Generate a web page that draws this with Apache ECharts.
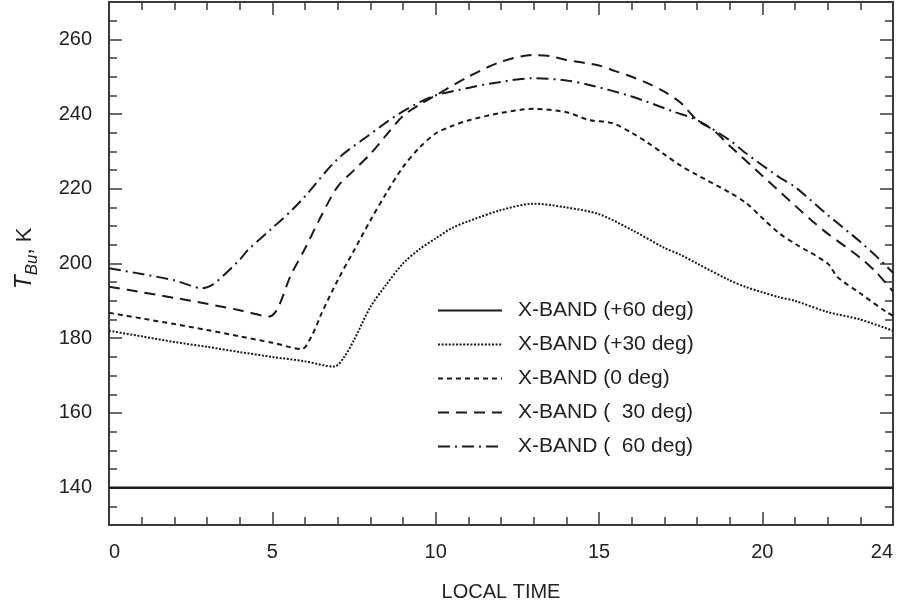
<!DOCTYPE html>
<html>
<head>
<meta charset="utf-8">
<script src="https://cdn.jsdelivr.net/npm/echarts@6/dist/echarts.min.js"></script>
<style>
  html, body { margin: 0; padding: 0; background: #fff; }
  #chart { width: 900px; height: 607px; }
</style>
</head>
<body>
<div id="chart"></div>
<script>
// series names (legend order)
const seriesNames = ['X-BAND (+60 deg)', 'X-BAND (+30 deg)', 'X-BAND (0 deg)', 'X-BAND (  30 deg)', 'X-BAND (  60 deg)'];

// +60 deg : flat
const hoursP60 = [0, 24];
const tempP60 = [140, 140];

// +30 deg
const hoursP30 = [0, 1, 2, 3, 4, 5, 6, 6.9, 7.2, 7.5, 8, 8.5, 9, 9.5, 10, 10.5, 11, 12, 13, 14, 15, 16, 17, 17.5, 18, 19, 19.5, 20, 20.5, 21, 22, 23, 24];
const tempP30 = [182, 180.5, 179, 177.7, 176.3, 175, 173.8, 172.4, 175, 179.5, 188.3, 194.5, 200, 203.8, 206.7, 209.5, 211.3, 214.3, 216, 215, 213.2, 209, 204.2, 202.3, 200, 195.5, 193.7, 192.3, 191, 190, 187, 185, 182];

// 0 deg
const hours00 = [0, 1, 2, 3, 4, 5, 5.9, 6.2, 6.5, 7, 7.5, 8, 8.5, 9, 9.5, 10, 10.5, 11, 12, 13, 14, 14.7, 15.4, 16, 16.5, 17, 17.5, 18, 19, 19.5, 20, 20.5, 21, 22, 22.3, 23, 23.8, 24];
const temp00 = [186.8, 185.3, 183.8, 182.2, 180.5, 178.8, 177.1, 180.5, 186.5, 195.5, 203.5, 211.5, 219, 225.8, 231, 234.8, 236.8, 238.3, 240.3, 241.4, 240.5, 238.4, 237.6, 235, 232.3, 229.2, 226.2, 223.7, 219, 216.2, 212.2, 208.2, 205.3, 200, 196.4, 192, 187, 186];

// 30 deg
const hoursM30 = [0, 1, 2, 3, 4, 4.9, 5.6, 6, 6.5, 7, 7.5, 8, 8.5, 9, 9.5, 10, 11, 12, 13, 13.5, 14, 15, 15.5, 16, 16.5, 17, 17.5, 18, 18.5, 19, 20, 21, 21.5, 22, 23, 23.5, 24];
const tempM30 = [193.8, 192.3, 190.8, 189.2, 187.5, 185.8, 197.5, 204, 212.8, 220.6, 225, 229.3, 234.5, 239.5, 242.5, 245, 250, 254, 255.8, 255.5, 254.5, 253, 251.5, 250, 248.2, 246, 243, 238.4, 235.7, 231.5, 223.5, 215.5, 211.6, 208, 201.5, 197.5, 192.5];

// 60 deg
const hoursM60 = [0, 1, 2, 2.85, 3.2, 4, 4.25, 5, 5.6, 6, 7, 7.9, 8.9, 9.9, 11, 11.7, 13, 14, 14.7, 16, 17.3, 18, 19, 19.5, 20.5, 21, 22, 23, 23.6, 24];
const tempM60 = [198.7, 197.2, 195.5, 193.4, 194.5, 201, 203.6, 209.5, 214.3, 218, 228, 234, 240.2, 244.7, 247, 248.2, 249.6, 249, 247.8, 244.7, 240.6, 238.4, 233, 229.5, 223.2, 220.5, 213, 205.8, 201, 197.5];

// axis ticks
const xMajorTicks = [0, 5, 10, 15, 20];
const xLabels = [0, 5, 10, 15, 20, 24];
const xMinorTicks = [1, 2, 3, 4, 6, 7, 8, 9, 11, 12, 13, 14, 16, 17, 18, 19, 21, 22, 23];
const yMajorTicks = [140, 160, 180, 200, 220, 240, 260];
const yMinorTicks = [135, 145, 150, 155, 165, 170, 175, 185, 190, 195, 205, 210, 215, 225, 230, 235, 245, 250, 255, 265];

const FONT = '"Liberation Sans", Arial, Helvetica, sans-serif';
const INK = '#1a1a1a';
const AXIS = '#3a3a3a';

function pairs(xs, ys) {
  return xs.map((x, i) => [x, ys[i]]);
}

function xAxisOf(position, ticks, len, withLabels) {
  return {
    type: 'value',
    position: position,
    min: 0,
    max: 24,
    axisLine: { show: true, onZero: false, lineStyle: { color: AXIS, width: 2 } },
    axisTick: { show: true, inside: true, length: len, customValues: ticks, lineStyle: { color: AXIS, width: 1.5 } },
    axisLabel: withLabels
      ? { show: true, customValues: xLabels, margin: 17, fontSize: 20, color: '#222', fontFamily: FONT }
      : { show: false },
    splitLine: { show: false },
  };
}

function yAxisOf(position, ticks, len, withLabels) {
  return {
    type: 'value',
    position: position,
    min: 130,
    max: 270,
    axisLine: { show: true, onZero: false, lineStyle: { color: AXIS, width: 2 } },
    axisTick: { show: true, inside: true, length: len, customValues: ticks, lineStyle: { color: AXIS, width: 1.5 } },
    axisLabel: withLabels
      ? { show: true, customValues: yMajorTicks, margin: 17, fontSize: 20, color: '#222', fontFamily: FONT }
      : { show: false },
    splitLine: { show: false },
  };
}

const xMain = xAxisOf('bottom', xMajorTicks, 13, true);
xMain.name = 'LOCAL TIME';
xMain.nameLocation = 'middle';
xMain.nameGap = 57;
xMain.nameTextStyle = { fontSize: 20, color: '#222', fontFamily: FONT };
xMain.axisLabel.alignMinLabel = 'left';
xMain.axisLabel.alignMaxLabel = 'right';

const yMain = yAxisOf('left', yMajorTicks, 13, true);
yMain.name = '{t|T}{s|Bu}{n|, K}';
yMain.nameLocation = 'middle';
yMain.nameGap = 68;
yMain.nameTextStyle = {
  color: '#222',
  fontFamily: FONT,
  padding: [0, 0, 0, 10],
  rich: {
    t: { fontSize: 23, fontStyle: 'italic', fontFamily: FONT, color: '#222', lineHeight: 32, verticalAlign: 'middle' },
    s: { fontSize: 17, fontStyle: 'italic', fontFamily: FONT, color: '#222', lineHeight: 32, verticalAlign: 'bottom' },
    n: { fontSize: 22, fontFamily: FONT, color: '#222', lineHeight: 32, verticalAlign: 'middle' },
  },
};

const dashes = ['solid', [2, 1.6], [5, 4], [11, 7], [12, 5, 2, 5]];
const hoursList = [hoursP60, hoursP30, hours00, hoursM30, hoursM60];
const tempList = [tempP60, tempP30, temp00, tempM30, tempM60];

const chart = echarts.init(document.getElementById('chart'), null, { renderer: 'canvas' });
chart.setOption({
  animation: false,
  backgroundColor: '#fff',
  grid: { left: 109, right: 7, top: 2, bottom: 82, containLabel: false },
  legend: {
    orient: 'vertical',
    left: 432,
    top: 295,
    itemWidth: 64,
    itemHeight: 14,
    itemGap: 13,
    data: seriesNames,
    itemStyle: { opacity: 0 },
    textStyle: { fontSize: 21, color: '#222', fontFamily: FONT, padding: [0, 0, 0, 11] },
  },
  xAxis: [
    xMain,
    xAxisOf('bottom', xMinorTicks, 8, false),
    xAxisOf('top', xMajorTicks, 13, false),
    xAxisOf('top', xMinorTicks, 8, false),
  ],
  yAxis: [
    yMain,
    yAxisOf('left', yMinorTicks, 8, false),
    yAxisOf('right', yMajorTicks, 13, false),
    yAxisOf('right', yMinorTicks, 8, false),
  ],
  series: seriesNames.map((name, i) => ({
    name: name,
    type: 'line',
    xAxisIndex: 0,
    yAxisIndex: 0,
    showSymbol: false,
    symbol: 'none',
    smooth: 0.3,
    data: pairs(hoursList[i], tempList[i]),
    lineStyle: { color: INK, width: i === 0 ? 2.5 : 2, type: dashes[i] },
    itemStyle: { color: INK },
  })),
});
</script>
</body>
</html>
